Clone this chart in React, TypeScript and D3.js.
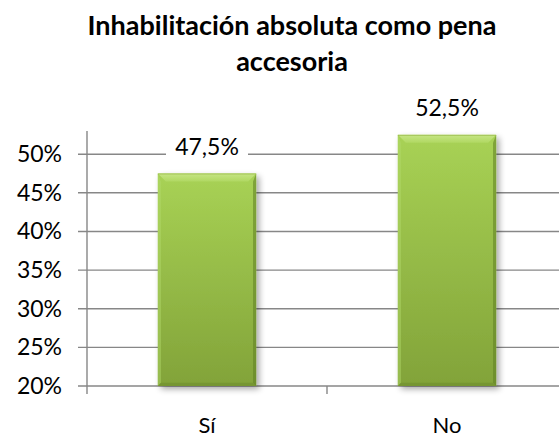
import React from "react";
import * as d3 from "d3";

const categories = ["Sí", "No"];
const values = [0.475, 0.525];
const valueLabels = ["47,5%", "52,5%"];
const yTicks = [0.2, 0.25, 0.3, 0.35, 0.4, 0.45, 0.5];
const titleLines = ["Inhabilitación absoluta como pena", "accesoria"];

const W = 559;
const H = 440;
const FONT = "Lato, 'Open Sans', sans-serif";

export default function App() {
  const left = 87;
  const top = 131;
  const bottom = 386;
  const plotRight = 567;
  const y = d3.scaleLinear().domain([0.2, 0.53]).range([bottom, top]);
  const x = d3.scaleBand<string>().domain(categories).range([left, plotRight]).padding(0);
  const barW = x.bandwidth() * 0.41;
  const fmt = (v: number) => `${Math.round(v * 100)}%`;
  const bev = 8;
  const grid = "#878787";

  return (
    <svg width={W} height={H} style={{ position: "absolute", left: 0, top: 0, background: "#fff" }}>
      <defs>
        <linearGradient id="barBody" x1="0" y1="0" x2="0" y2="1">
          <stop offset="0" stopColor="#a8d255" />
          <stop offset="1" stopColor="#82a339" />
        </linearGradient>
        <linearGradient id="barTop" x1="0" y1="0" x2="0" y2="1">
          <stop offset="0" stopColor="#c6e584" />
          <stop offset="1" stopColor="#b0d862" />
        </linearGradient>
        <filter id="shadow" x="-20%" y="-10%" width="150%" height="130%">
          <feGaussianBlur in="SourceAlpha" stdDeviation="3" />
          <feOffset dx="3" dy="3" result="b" />
          <feComponentTransfer>
            <feFuncA type="linear" slope="0.35" />
          </feComponentTransfer>
          <feMerge>
            <feMergeNode />
            <feMergeNode in="SourceGraphic" />
          </feMerge>
        </filter>
      </defs>

      {/* title */}
      {titleLines.map((t, i) => (
        <text
          key={t}
          x={292}
          y={35 + i * 36}
          textAnchor="middle"
          fontFamily={FONT}
          fontWeight={700}
          fontSize={27}
          fill="#000"
        >
          {t}
        </text>
      ))}

      {/* gridlines and y ticks */}
      {yTicks.map((t) => (
        <g key={t}>
          <line x1={78} x2={W} y1={y(t)} y2={y(t)} stroke={grid} strokeWidth={1.4} />
          <text
            x={62}
            y={y(t) + 8}
            textAnchor="end"
            fontFamily={FONT}
            fontSize={23}
            fill="#000"
          >
            {fmt(t)}
          </text>
        </g>
      ))}

      {/* y axis */}
      <line x1={left} x2={left} y1={top} y2={bottom} stroke={grid} strokeWidth={1.4} />
      {/* x axis ticks */}
      {[...categories.map((c) => x(c) as number), plotRight].map((px, i) => (
        <line key={i} x1={px} x2={px} y1={bottom} y2={bottom + 8} stroke={grid} strokeWidth={1.4} />
      ))}

      {/* bars */}
      {categories.map((c, i) => {
        const cx = (x(c) as number) + x.bandwidth() / 2;
        const x0 = cx - barW / 2;
        const x1 = cx + barW / 2;
        const yt = y(values[i]);
        const yb = y(0.2);
        return (
          <g key={c}>
            <g filter="url(#shadow)">
              <rect x={x0} y={yt} width={barW} height={yb - yt} fill="url(#barBody)" />
            </g>
            <polygon
              points={`${x0},${yt} ${x1},${yt} ${x1 - bev},${yt + bev} ${x0 + bev},${yt + bev}`}
              fill="url(#barTop)"
            />
            <polygon
              points={`${x0},${yt} ${x0 + bev * 0.4},${yt + bev} ${x0 + bev * 0.4},${yb - bev * 0.4} ${x0},${yb}`}
              fill="#b2d96a"
              opacity={0.45}
            />
            <polygon
              points={`${x1},${yt} ${x1 - bev * 0.4},${yt + bev} ${x1 - bev * 0.4},${yb - bev * 0.4} ${x1},${yb}`}
              fill="#5f7f22"
              opacity={0.55}
            />
            <polygon
              points={`${x0},${yb} ${x1},${yb} ${x1 - bev * 0.4},${yb - bev * 0.4} ${x0 + bev * 0.4},${yb - bev * 0.4}`}
              fill="#6a8a2c"
              opacity={0.5}
            />
            <rect x={x0} y={yt} width={barW} height={1} fill="#8fb040" opacity={0.6} />
            {/* value label with white box */}
            <rect x={cx - 41} y={yt - 40} width={82} height={28} fill="#fff" />
            <text
              x={cx}
              y={yt - 19}
              textAnchor="middle"
              fontFamily={FONT}
              fontSize={23}
              fill="#000"
            >
              {valueLabels[i]}
            </text>
            {/* category label */}
            <text
              x={cx}
              y={433}
              textAnchor="middle"
              fontFamily={FONT}
              fontSize={22}
              fill="#000"
            >
              {c}
            </text>
          </g>
        );
      })}
    </svg>
  );
}
